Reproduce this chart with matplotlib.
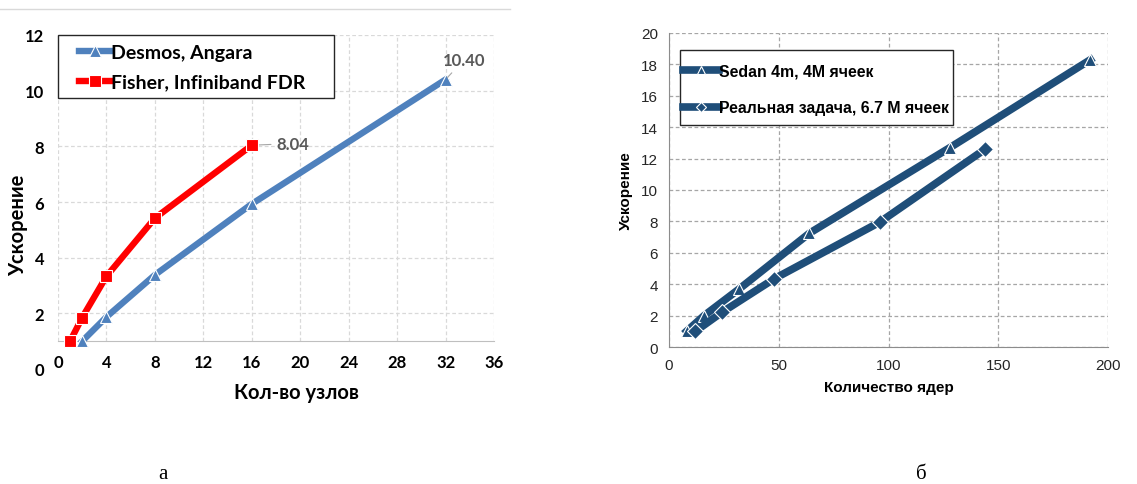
import matplotlib
matplotlib.use('Agg')
import matplotlib.pyplot as plt
from matplotlib.patches import Rectangle

# left chart: speed-up vs number of nodes
nodes_desmos = [2, 4, 8, 16, 32]
speedup_desmos = [1.0, 1.87, 3.38, 5.93, 10.40]
nodes_fisher = [1, 2, 4, 8, 16]
speedup_fisher = [1.0, 1.85, 3.33, 5.42, 8.04]
left_xticks = [0, 4, 8, 12, 16, 20, 24, 28, 32, 36]
left_yticks = [0, 2, 4, 6, 8, 10, 12]

# right chart: speed-up vs number of cores
cores_sedan = [8, 16, 32, 64, 128, 192]
speedup_sedan = [1.0, 2.0, 3.7, 7.25, 12.7, 18.3]
cores_real = [12, 24, 48, 96, 144]
speedup_real = [1.0, 2.2, 4.35, 7.95, 12.6]
right_xticks = [0, 50, 100, 150, 200]
right_yticks = [0, 2, 4, 6, 8, 10, 12, 14, 16, 18, 20]

W, H = 1137, 485
fig = plt.figure(figsize=(W / 100, H / 100), dpi=100)

# ---------------- left chart ----------------
LF = ['Lato', 'DejaVu Sans']
ax = fig.add_axes([58 / W, 115 / H, 436 / W, 334 / H])
ax.set_xlim(0, 36)
ax.set_ylim(0, 12)
grid_c = '#D9D9D9'
ax.vlines(left_xticks, 1, 12, colors=grid_c, linestyles=(0, (3, 2)), lw=0.9, zorder=0)
ax.hlines(left_yticks[1:], 0, 36, colors=grid_c, linestyles=(0, (3, 2)), lw=0.9, zorder=0)
for s in ['top', 'right', 'left']:
    ax.spines[s].set_visible(False)
ax.spines['bottom'].set_position(('data', 1))
ax.spines['bottom'].set_color('#BFBFBF')

blue = '#4F81BD'
red = '#FF0000'
ax.plot(nodes_desmos, speedup_desmos, color=blue, lw=4.6, marker='^', ms=8.5,
        mfc=blue, mec='white', mew=0.8, label='Desmos, Angara', zorder=3)
ax.plot(nodes_fisher, speedup_fisher, color=red, lw=4.6, marker='s', ms=8.5,
        mfc=red, mec='white', mew=0.8, label='Fisher, Infiniband FDR', zorder=4)

ax.annotate('10.40', xy=(nodes_desmos[-1], speedup_desmos[-1]), xytext=(33.5, 11.1),
            ha='center', va='center', fontsize=12, fontweight='bold', color='#595959',
            family=LF, arrowprops=dict(arrowstyle='-', color='#A6A6A6', lw=0.8))
ax.annotate('8.04', xy=(nodes_fisher[-1], speedup_fisher[-1]), xytext=(19.4, 8.1),
            ha='center', va='center', fontsize=12, fontweight='bold', color='#595959',
            family=LF, arrowprops=dict(arrowstyle='-', color='#A6A6A6', lw=0.8))

ax.set_xticks(left_xticks)
ax.set_yticks(left_yticks)
ax.tick_params(axis='both', length=0, labelsize=12)
ax.tick_params(axis='x', pad=9)
ax.tick_params(axis='y', pad=10)
for t in ax.get_xticklabels() + ax.get_yticklabels():
    t.set_fontweight('bold')
    t.set_family(LF)
ax.set_ylabel('Ускорение', fontsize=14.5, fontweight='bold', family=LF, va='center')
ax.yaxis.set_label_coords(-0.092, 0.434)
ax.set_xlabel('Кол-во узлов', fontsize=14.5, fontweight='bold', family=LF, va='center')
ax.xaxis.set_label_coords(0.548, -0.069)

ax.add_patch(Rectangle((0, 0.811), 0.633, 0.189, transform=ax.transAxes, fill=True,
                       facecolor='white', edgecolor='#262626', lw=1.0, zorder=5,
                       clip_on=False))
leg = ax.legend(loc='upper left', bbox_to_anchor=(0.048, 0.973), borderaxespad=0,
                prop={'family': LF, 'weight': 'bold', 'size': 14},
                frameon=False, handlelength=1.65, handletextpad=0.0,
                labelspacing=0.65, borderpad=0, markerscale=1.0)
leg.set_zorder(6)

# chart area border line at top
fig.add_artist(plt.Line2D([0, 510 / W], [1 - 10 / H, 1 - 10 / H], color='#D9D9D9', lw=1))

# ---------------- right chart ----------------
RF = ['Liberation Sans', 'DejaVu Sans']
bx = fig.add_axes([669 / W, 137 / H, 439 / W, 314 / H])
bx.set_xlim(0, 200)
bx.set_ylim(0, 20)
bx.set_xticks(right_xticks)
bx.set_yticks(right_yticks)
bx.grid(True, color='#A6A6A6', ls=(0, (3, 2)), lw=0.9)
bx.set_axisbelow(True)
for s in ['top', 'right']:
    bx.spines[s].set_visible(False)
for s in ['left', 'bottom']:
    bx.spines[s].set_color('#8C8C8C')

navy = '#1F4E79'
bx.plot(cores_sedan, speedup_sedan, color=navy, lw=5.5, marker='^', ms=9,
        mfc=navy, mec='white', mew=0.8, label='Sedan 4m, 4M ячеек', zorder=3)
bx.plot(cores_real, speedup_real, color=navy, lw=5.5, marker='D', ms=8,
        mfc=navy, mec='white', mew=0.8, label='Реальная задача, 6.7 M ячеек', zorder=3)

bx.tick_params(axis='both', length=0, labelsize=11, colors='#262626')
bx.tick_params(axis='x', pad=8)
bx.tick_params(axis='y', pad=8)
for t in bx.get_xticklabels() + bx.get_yticklabels():
    t.set_family(RF)
bx.set_ylabel('Ускорение', fontsize=11, fontweight='bold', family=RF, labelpad=6)
bx.set_xlabel('Количество ядер', fontsize=11, fontweight='bold', family=RF, labelpad=6)

bx.add_patch(Rectangle((0.025, 0.707), 0.622, 0.239, transform=bx.transAxes, fill=True,
                       facecolor='white', edgecolor='#262626', lw=1.0, zorder=5,
                       clip_on=False))
leg2 = bx.legend(loc='upper left', bbox_to_anchor=(0.032, 0.902), borderaxespad=0,
                 prop={'family': RF, 'weight': 'bold', 'size': 11.4},
                 frameon=False, handlelength=2.3, handletextpad=0.0,
                 labelspacing=1.36, borderpad=0, markerscale=0.6)
leg2.set_zorder(6)

# captions
fig.text(163 / W, 1 - 475 / H, 'а', ha='center', va='center', fontsize=15,
         family=['Liberation Serif', 'DejaVu Serif'])
fig.text(921 / W, 1 - 475 / H, 'б', ha='center', va='center', fontsize=15,
         family=['Liberation Serif', 'DejaVu Serif'])

fig.savefig('out.png', dpi=100)
